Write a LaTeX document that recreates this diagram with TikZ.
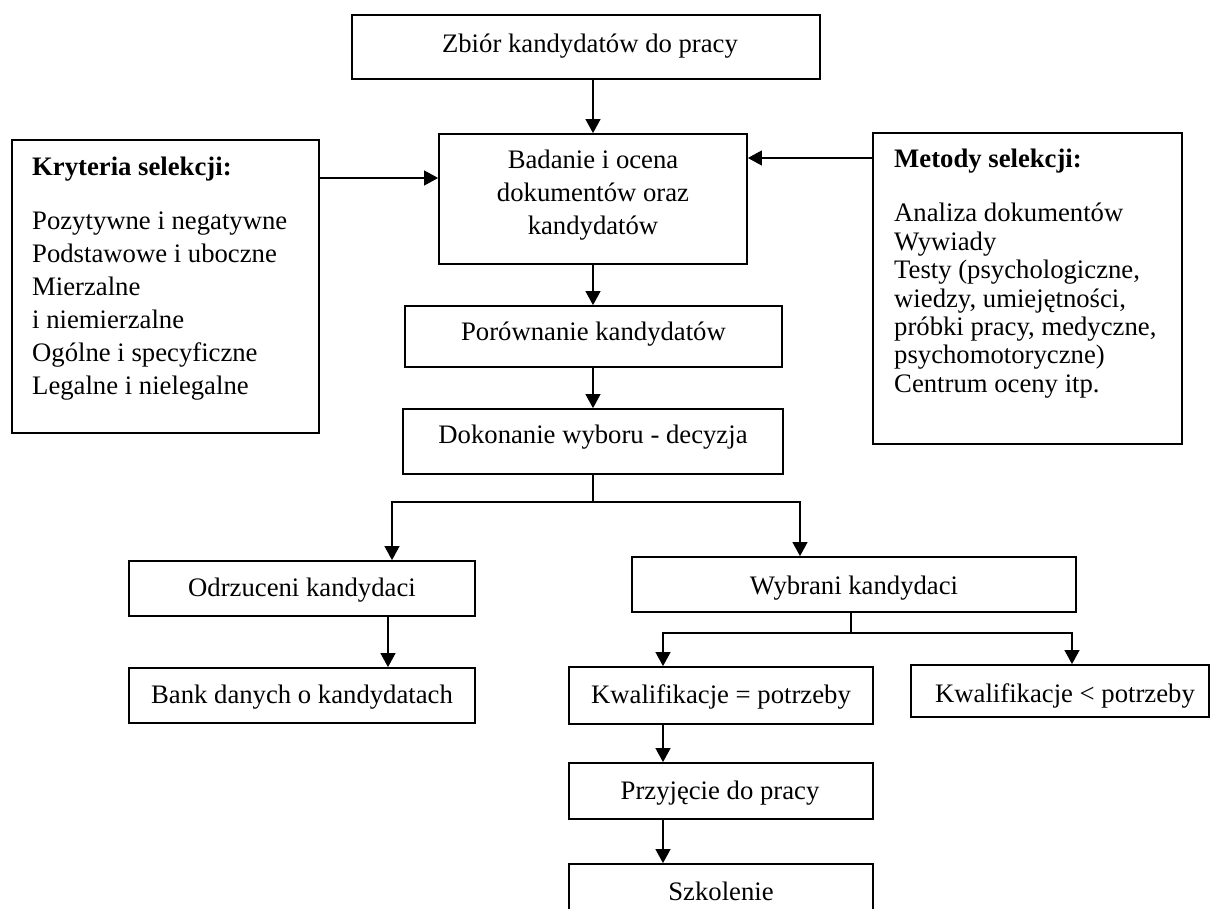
\documentclass[tikz,border=0pt]{standalone}
\usepackage{fontspec}
\setmainfont{Liberation Serif}
\usetikzlibrary{arrows.meta}
\tikzset{
  box/.style={draw=black, line width=1.8pt, fill=white, inner sep=0pt},
  lbl/.style={inner sep=0pt, anchor=base, font=\fontsize{26.7}{33}\selectfont},
  lblw/.style={inner sep=0pt, anchor=base west, font=\fontsize{26.7}{33}\selectfont},
  lbltight/.style={inner sep=0pt, anchor=base west, font=\fontsize{26.7}{28.4}\selectfont},
  conn/.style={line width=1.1pt},
  arr/.style={conn, -{Triangle[width=15pt,length=14pt]}},
}
\begin{document}
\begin{tikzpicture}[x=1pt,y=-1pt]
\clip (0,0) rectangle (1211,909);
\fill[white] (0,0) rectangle (1211,909);

% frames
\node[box, minimum width=468pt, minimum height=64pt]  (zb)   at (586,47)     {};
\node[box, minimum width=308pt, minimum height=130pt] (bad)  at (593,199)    {};
\node[box, minimum width=307pt, minimum height=293pt] (kry)  at (165.5,286.5) {};
\node[box, minimum width=309pt, minimum height=311pt] (met)  at (1027.5,288.5) {};
\node[box, minimum width=377pt, minimum height=61pt]  (por)  at (593.5,336.5) {};
\node[box, minimum width=380pt, minimum height=65pt]  (dec)  at (593,441.5)  {};
\node[box, minimum width=346pt, minimum height=55pt]  (odr)  at (302,588.5)  {};
\node[box, minimum width=346pt, minimum height=55pt]  (bank) at (302,695.5)  {};
\node[box, minimum width=444pt, minimum height=55pt]  (wyb)  at (854,584.5)  {};
\node[box, minimum width=304pt, minimum height=57pt]  (keq)  at (721,695.5)  {};
\node[box, minimum width=298pt, minimum height=52pt]  (klt)  at (1060,691)   {};
\node[box, minimum width=304pt, minimum height=56pt]  (prz)  at (721,791)    {};
\node[box, minimum width=304pt, minimum height=62pt]  (szk)  at (721,895)    {};

% texts
\node[lbl] (zb-t) at (590,53) {Zbiór kandydatów do pracy};
\node[lbl] (bad-t) at (593,169) {\begin{tabular}[t]{@{}c@{}}Badanie i ocena\\ dokumentów oraz\\ kandydatów\end{tabular}};
\node[lblw] (kry-h) at (32,176) {\bfseries Kryteria selekcji:};
\node[lblw] (kry-t) at (32,230) {\begin{tabular}[t]{@{}l@{}}Pozytywne i negatywne\\ Podstawowe i uboczne\\ Mierzalne\\ i niemierzalne\\ Ogólne i specyficzne\\ Legalne i nielegalne\end{tabular}};
\node[lblw] (met-h) at (894,168) {\bfseries Metody selekcji:};
\node[lbltight] (met-t) at (894,222) {\begin{tabular}[t]{@{}l@{}}Analiza dokumentów\\ Wywiady\\ Testy (psychologiczne,\\ wiedzy, umiejętności,\\ próbki pracy, medyczne,\\ psychomotoryczne)\\ Centrum oceny itp.\end{tabular}};
\node[lbl] (por-t) at (593.5,341) {Porównanie kandydatów};
\node[lbl] (dec-t) at (593,443) {Dokonanie wyboru - decyzja};
\node[lbl] (odr-t) at (302,596) {Odrzuceni kandydaci};
\node[lbl] (bank-t) at (302,703) {Bank danych o kandydatach};
\node[lbl] (wyb-t) at (854,594) {Wybrani kandydaci};
\node[lbl] (keq-t) at (721,703) {Kwalifikacje = potrzeby};
\node[lbl] (klt-t) at (1065,702) {Kwalifikacje < potrzeby};
\node[lbl] (prz-t) at (720,799) {Przyjęcie do pracy};
\node[lbl] (szk-t) at (721,900) {Szkolenie};

% connectors
\coordinate (kryA) at (0,178);
\coordinate (metA) at (0,158);
\draw[arr] (kry.east |- kryA) -- (bad.west |- kryA);
\draw[arr] (met.west |- metA) -- (bad.east |- metA);
\draw[arr] (bad.north |- zb.south) -- (bad.north);
\draw[arr] (bad.south) -- (bad.south |- por.north);
\draw[arr] (dec.north |- por.south) -- (dec.north);

\coordinate (decL) at (392,502);
\coordinate (decR) at (800,502);
\draw[conn] (dec.south) -- (dec.south |- decL);
\draw[arr] (dec.south |- decL) -- (decL) -- (decL |- odr.north);
\draw[arr] (dec.south |- decL) -- (decR) -- (decR |- wyb.north);
\draw[arr] ([xshift=86pt]odr.south) -- ([xshift=86pt]bank.north);

\coordinate (wybL) at (663,633);
\coordinate (wybR) at (1072,633);
\draw[conn] ([xshift=-3pt]wyb.south) -- ([xshift=-3pt]wyb.south |- wybL);
\draw[arr] ([xshift=-3pt]wyb.south |- wybL) -- (wybL) -- (wybL |- keq.north);
\draw[arr] ([xshift=-3pt]wyb.south |- wybL) -- (wybR) -- (wybR |- klt.north);
\draw[arr] ([xshift=-58pt]keq.south) -- ([xshift=-58pt]prz.north);
\draw[arr] ([xshift=-58pt]prz.south) -- ([xshift=-58pt]szk.north);
\end{tikzpicture}
\end{document}
